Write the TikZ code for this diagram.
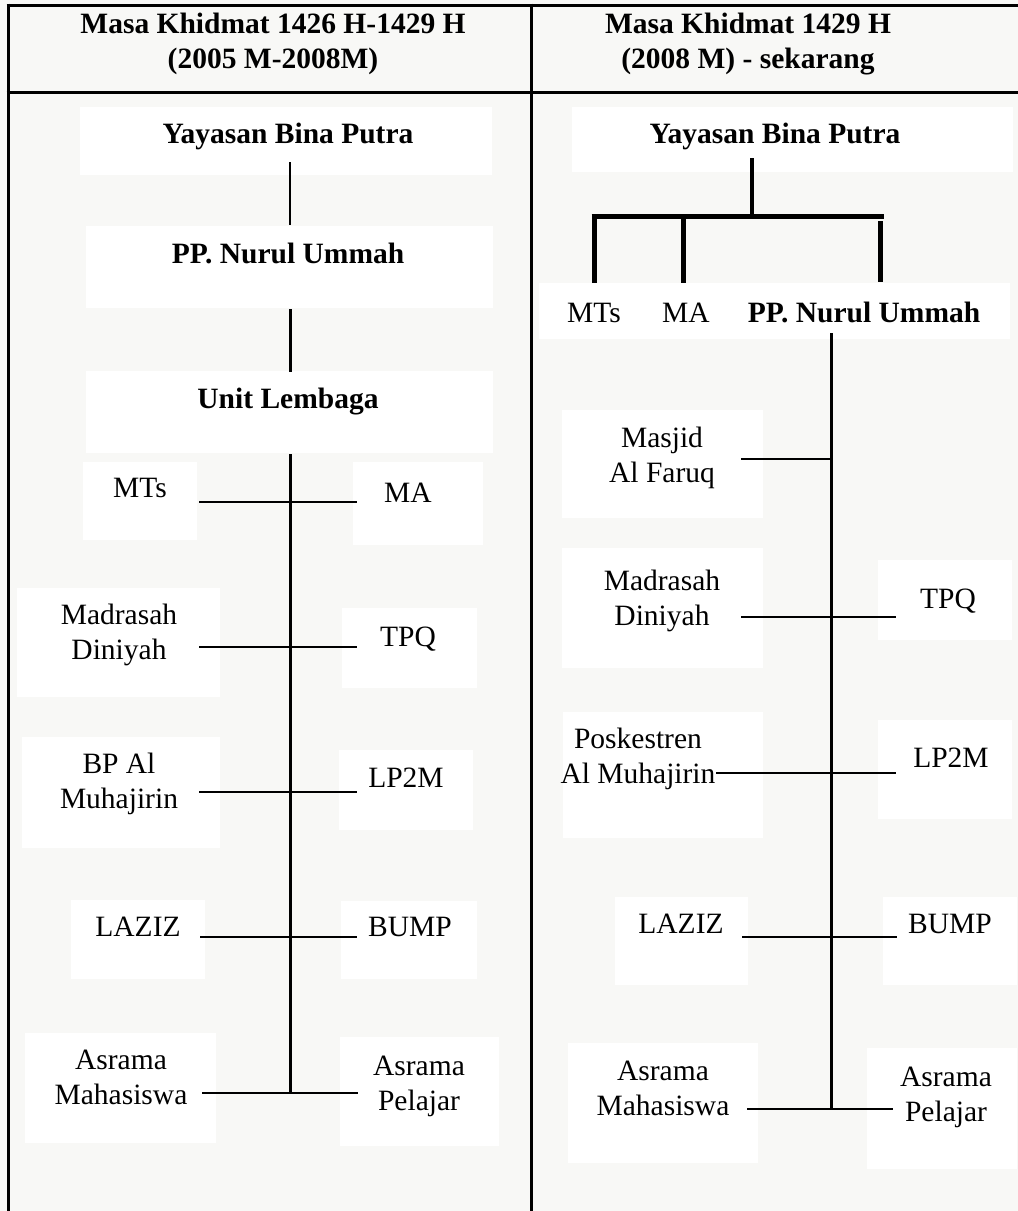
\documentclass[tikz,border=0pt]{standalone}
\usepackage{fontspec}
\setmainfont{Liberation Serif}
\definecolor{bgpaper}{RGB}{248,248,246}
\newcommand{\twol}[2]{\begin{tabular}[t]{@{}c@{}}#1\\#2\end{tabular}}
\begin{document}
\begin{tikzpicture}[x=1pt,y=-1pt,
  lbl/.style={inner sep=0pt, anchor=base, font=\fontsize{29.5}{35.5}\selectfont},
  blbl/.style={lbl, font=\fontsize{29.5}{35.5}\selectfont\bfseries},
  conn/.style={line width=1.4pt},
  trunk/.style={line width=3pt},
  heavybar/.style={line width=5pt},
  tableline/.style={line width=3pt},
  paperbox/.style={fill=white}
]
% page / background
\fill[bgpaper] (0,0) rectangle (1018,1211);
\useasboundingbox (0,0) rectangle (1018,1211);

% white text boxes (faint in the reference)
\fill[paperbox] (80,107) rectangle (492,175);
\fill[paperbox] (86,226) rectangle (493,308);
\fill[paperbox] (86,371) rectangle (493,453);
\fill[paperbox] (83,462) rectangle (197,540);
\fill[paperbox] (353,462) rectangle (483,545);
\fill[paperbox] (17,588) rectangle (220,697);
\fill[paperbox] (342,608) rectangle (477,688);
\fill[paperbox] (22,737) rectangle (220,848);
\fill[paperbox] (339,750) rectangle (473,830);
\fill[paperbox] (71,900) rectangle (205,979);
\fill[paperbox] (341,901) rectangle (477,979);
\fill[paperbox] (25,1033) rectangle (216,1143);
\fill[paperbox] (340,1037) rectangle (499,1146);
\fill[paperbox] (572,107) rectangle (1013,172);
\fill[paperbox] (539,283) rectangle (1010,339);
\fill[paperbox] (562,410) rectangle (763,518);
\fill[paperbox] (562,548) rectangle (763,668);
\fill[paperbox] (878,560) rectangle (1012,640);
\fill[paperbox] (563,712) rectangle (763,838);
\fill[paperbox] (878,720) rectangle (1012,819);
\fill[paperbox] (615,897) rectangle (748,985);
\fill[paperbox] (883,897) rectangle (1017,985);
\fill[paperbox] (568,1043) rectangle (758,1163);
\fill[paperbox] (867,1048) rectangle (1017,1169);

% table rules
\draw[tableline] (6.5,5) -- (1018,5);
\draw[tableline] (6.5,92) -- (1018,92);
\draw[tableline] (8,3.5) -- (8,1211);
\draw[tableline] (531,3.5) -- (531,1211);

% headers
\node[blbl] (hL) at (273,33) {\twol{Masa Khidmat 1426 H-1429 H}{(2005 M-2008M)}};
\node[blbl] (hR) at (748,33) {\twol{Masa Khidmat 1429 H}{(2008 M) - sekarang}};

% ---------------- left column ----------------
\node[blbl] (LY) at (288,143) {Yayasan Bina Putra};
\node[blbl] (LP) at (288,263) {PP. Nurul Ummah};
\node[blbl] (LU) at (288,408) {Unit Lembaga};

\node[lbl] (LMTs) at (140,497) {MTs};
\node[lbl] (LMA) at (408,502) {MA};
\node[lbl] (LMD) at (119,624) {\twol{Madrasah}{Diniyah}};
\node[lbl] (LTPQ) at (408,646) {TPQ};
\node[lbl] (LBP) at (119,773) {\twol{BP Al}{Muhajirin}};
\node[lbl] (LLP) at (406,787) {LP2M};
\node[lbl] (LLZ) at (138,936) {LAZIZ};
\node[lbl] (LBU) at (410,936) {BUMP};
\node[lbl] (LAM) at (121,1069) {\twol{Asrama}{Mahasiswa}};
\node[lbl] (LAP) at (419,1075) {\twol{Asrama}{Pelajar}};

\coordinate (LYb) at (290,162);
\coordinate (LPt) at (290,225);
\coordinate (LPb) at (290,309);
\coordinate (LUt) at (290,372);
\coordinate (LUb) at (290,454);
\coordinate (Lend) at (290,1093);
\draw[conn] (LYb) -- (LPt);
\draw[trunk] (LPb) -- (LUt);
\draw[trunk] (LUb) -- (Lend);

\coordinate (LMTsR) at (199,502);  \coordinate (LMAL) at (357,502);
\coordinate (LMDR) at (199,647);   \coordinate (LTPQL) at (357,647);
\coordinate (LBPR) at (199,792);   \coordinate (LLPL) at (357,792);
\coordinate (LLZR) at (200,937);   \coordinate (LBUL) at (357,937);
\coordinate (LAMR) at (202,1093);  \coordinate (LAPL) at (358,1093);
\draw[conn] (LMTsR) -- (LMAL);
\draw[conn] (LMDR) -- (LTPQL);
\draw[conn] (LBPR) -- (LLPL);
\draw[conn] (LLZR) -- (LBUL);
\draw[conn] (LAMR) -- (LAPL);

% ---------------- right column ----------------
\node[blbl] (RY) at (775,143) {Yayasan Bina Putra};
\node[lbl] (RMTs) at (594,322) {MTs};
\node[lbl] (RMA) at (686,322) {MA};
\node[blbl] (RPP) at (864,322) {PP. Nurul Ummah};

\coordinate (RYb) at (752,158);
\coordinate (Rbar) at (752,216);
\coordinate (RbarL) at (591.5,216);
\coordinate (RbarR) at (884,216);
\coordinate (RdMTsT) at (594,216);  \coordinate (RdMTsB) at (594,283);
\coordinate (RdMAT) at (683,216);   \coordinate (RdMAB) at (683,283);
\coordinate (RdPPT) at (880,221);   \coordinate (RdPPB) at (880,282);
\draw[line width=3.5pt] (RYb) -- (Rbar);
\draw[heavybar] (RbarL) -- (RbarR);
\draw[heavybar] (RdMTsT) -- (RdMTsB);
\draw[heavybar] (RdMAT) -- (RdMAB);
\draw[heavybar] (RdPPT) -- (RdPPB);

\node[lbl] (RMJ) at (662,447) {\twol{Masjid}{Al Faruq}};
\node[lbl] (RMD) at (662,590) {\twol{Madrasah}{Diniyah}};
\node[lbl] (RTPQ) at (948,608) {TPQ};
\node[lbl] (RPK) at (638,748) {\twol{Poskestren}{Al Muhajirin}};
\node[lbl] (RLP) at (951,767) {LP2M};
\node[lbl] (RLZ) at (681,933) {LAZIZ};
\node[lbl] (RBU) at (950,933) {BUMP};
\node[lbl] (RAM) at (663,1080) {\twol{Asrama}{Mahasiswa}};
\node[lbl] (RAP) at (946,1086) {\twol{Asrama}{Pelajar}};

\coordinate (RPPb) at (831,333);
\coordinate (Rend) at (831,1109);
\draw[trunk] (RPPb) -- (Rend);

\coordinate (RMJR) at (741,459);   \coordinate (RMJk) at (831,459);
\coordinate (RMDR) at (741,617);   \coordinate (RTPQL) at (896,617);
\coordinate (RPKR) at (716,773);   \coordinate (RLPL) at (896,773);
\coordinate (RLZR) at (742,937);   \coordinate (RBUL) at (897,937);
\coordinate (RAMR) at (747,1109);  \coordinate (RAPL) at (893,1109);
\draw[conn] (RMJR) -- (RMJk);
\draw[conn] (RMDR) -- (RTPQL);
\draw[conn] (RPKR) -- (RLPL);
\draw[conn] (RLZR) -- (RBUL);
\draw[conn] (RAMR) -- (RAPL);
\end{tikzpicture}
\end{document}
